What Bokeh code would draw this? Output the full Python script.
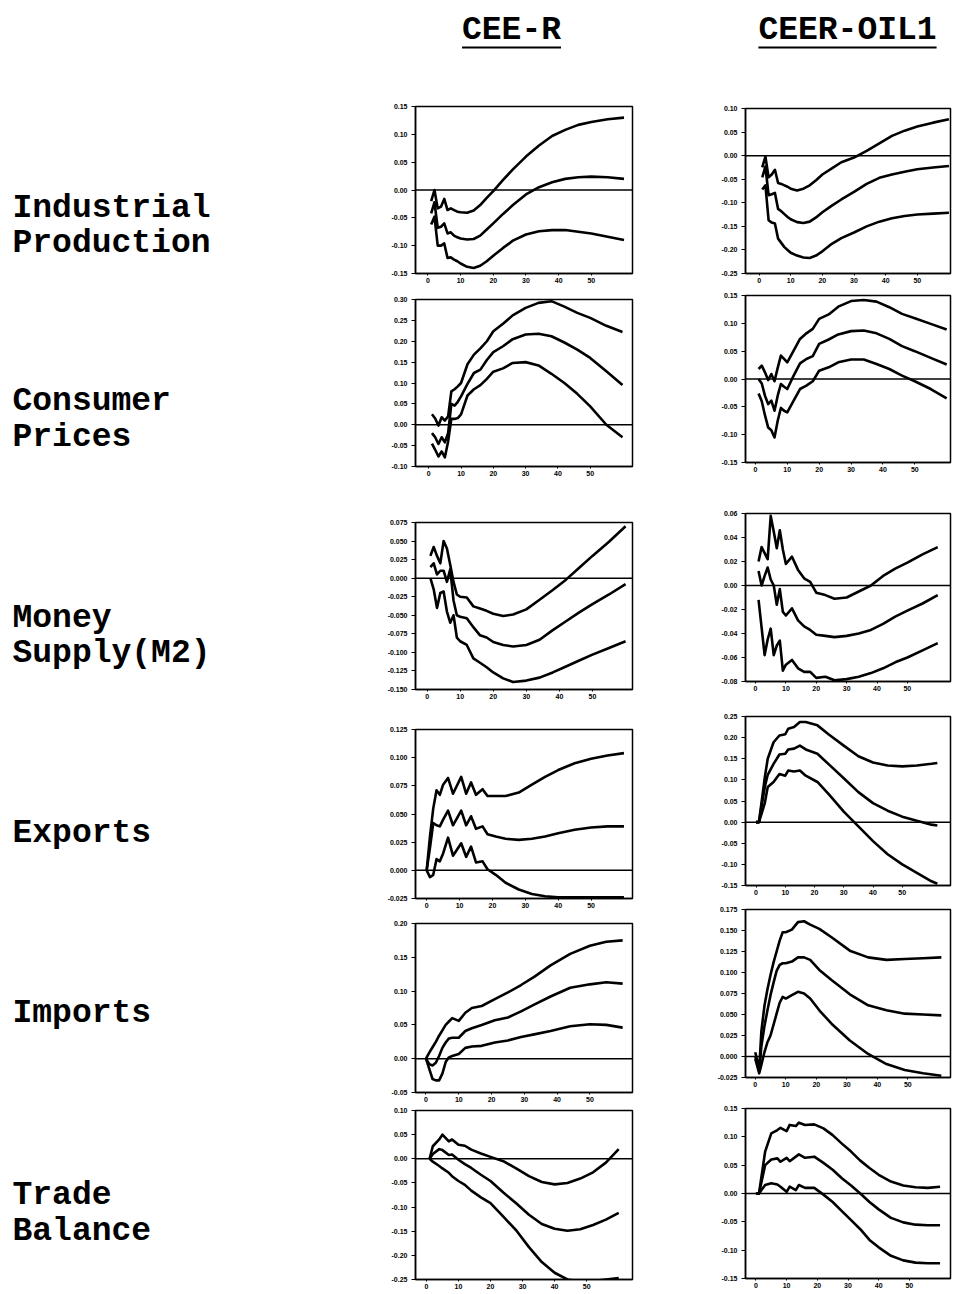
from bokeh.plotting import figure
from bokeh.layouts import column, row
from bokeh.models import Range1d, FixedTicker, PrintfTickFormatter, Span
from bokeh.core.properties import value
from bokeh.embed import file_html
from bokeh.resources import INLINE

# ---------------------------------------------------------------------------
# Impulse responses (upper band, point estimate, lower band) by horizon
# ---------------------------------------------------------------------------
GRID = [1, 2, 3, 4, 5, 6, 7, 8, 9, 10, 12, 14, 16, 18, 20, 23, 26, 30, 34, 38, 42, 46, 50, 55, 60]

ip_r_x = GRID
ip_r_hi = [-0.020, 0.000, -0.033, -0.030, -0.016, -0.036, -0.033, -0.036, -0.039, -0.040, -0.041, -0.037, -0.027,
           -0.014, -0.002, 0.018, 0.037, 0.060, 0.080, 0.097, 0.108, 0.117, 0.122, 0.127, 0.130]
ip_r_mid = [-0.042, -0.022, -0.068, -0.066, -0.060, -0.078, -0.076, -0.082, -0.085, -0.087, -0.089, -0.088, -0.082,
            -0.071, -0.060, -0.043, -0.027, -0.008, 0.005, 0.014, 0.020, 0.023, 0.024, 0.023, 0.020]
ip_r_lo = [-0.062, -0.048, -0.100, -0.100, -0.096, -0.122, -0.121, -0.125, -0.128, -0.132, -0.138, -0.140, -0.136,
           -0.128, -0.118, -0.104, -0.091, -0.080, -0.074, -0.072, -0.072, -0.075, -0.078, -0.084, -0.090]

ip_o_x = GRID
ip_o_hi = [-0.025, -0.002, -0.046, -0.040, -0.030, -0.058, -0.060, -0.063, -0.066, -0.070, -0.074, -0.070, -0.063,
           -0.052, -0.040, -0.027, -0.014, -0.004, 0.010, 0.026, 0.042, 0.053, 0.062, 0.070, 0.077]
ip_o_mid = [-0.046, -0.023, -0.084, -0.082, -0.079, -0.113, -0.118, -0.124, -0.130, -0.135, -0.141, -0.143, -0.140,
            -0.131, -0.120, -0.106, -0.093, -0.077, -0.060, -0.047, -0.040, -0.034, -0.029, -0.025, -0.022]
ip_o_lo = [-0.072, -0.063, -0.137, -0.142, -0.144, -0.176, -0.185, -0.194, -0.200, -0.206, -0.212, -0.216, -0.217,
           -0.212, -0.203, -0.187, -0.175, -0.163, -0.150, -0.140, -0.133, -0.128, -0.125, -0.123, -0.121]

cp_r_x = GRID
cp_r_hi = [0.025, 0.015, -0.002, 0.018, 0.010, 0.020, 0.080, 0.085, 0.092, 0.100, 0.145, 0.168, 0.183, 0.200, 0.224,
           0.242, 0.262, 0.280, 0.292, 0.296, 0.283, 0.268, 0.256, 0.237, 0.222]
cp_r_mid = [-0.020, -0.030, -0.046, -0.030, -0.042, -0.020, 0.050, 0.046, 0.055, 0.068, 0.098, 0.124, 0.132, 0.155,
            0.174, 0.188, 0.205, 0.216, 0.218, 0.212, 0.197, 0.180, 0.160, 0.128, 0.095]
cp_r_lo = [-0.045, -0.060, -0.076, -0.064, -0.078, -0.040, 0.014, 0.014, 0.016, 0.025, 0.070, 0.085, 0.095, 0.110,
           0.127, 0.135, 0.148, 0.150, 0.142, 0.122, 0.100, 0.074, 0.044, 0.000, -0.030]

cp_o_x = GRID
cp_o_hi = [0.018, 0.024, 0.012, -0.002, 0.009, -0.004, 0.020, 0.042, 0.036, 0.030, 0.051, 0.072, 0.082, 0.090, 0.108,
           0.116, 0.130, 0.140, 0.142, 0.139, 0.129, 0.117, 0.109, 0.099, 0.089]
cp_o_mid = [0.000, -0.008, -0.030, -0.045, -0.039, -0.057, -0.030, -0.009, -0.014, -0.018, 0.006, 0.028, 0.036, 0.041,
            0.063, 0.071, 0.080, 0.086, 0.087, 0.082, 0.072, 0.059, 0.050, 0.038, 0.026]
cp_o_lo = [-0.026, -0.040, -0.065, -0.087, -0.092, -0.105, -0.075, -0.052, -0.057, -0.060, -0.039, -0.018, -0.012,
           -0.004, 0.015, 0.021, 0.030, 0.035, 0.035, 0.027, 0.018, 0.006, -0.004, -0.018, -0.035]

m2_r_x = GRID
m2_r_hi = [0.030, 0.042, 0.030, 0.020, 0.050, 0.040, 0.018, -0.005, -0.022, -0.025, -0.026, -0.038, -0.041, -0.044,
           -0.048, -0.051, -0.049, -0.042, -0.029, -0.016, -0.002, 0.014, 0.030, 0.049, 0.070]
m2_r_mid = [0.015, 0.020, 0.005, 0.010, 0.010, -0.005, 0.012, -0.030, -0.050, -0.052, -0.054, -0.066, -0.077, -0.080,
            -0.086, -0.090, -0.092, -0.090, -0.083, -0.070, -0.058, -0.046, -0.035, -0.022, -0.008]
m2_r_lo = [0.000, -0.015, -0.040, -0.020, -0.018, -0.045, -0.060, -0.050, -0.080, -0.085, -0.090, -0.108, -0.114,
           -0.120, -0.127, -0.135, -0.140, -0.138, -0.134, -0.127, -0.119, -0.111, -0.103, -0.094, -0.085]

m2_o_x = GRID
m2_o_hi = [0.020, 0.032, 0.027, 0.022, 0.058, 0.045, 0.031, 0.046, 0.030, 0.018, 0.024, 0.013, 0.006, 0.003, -0.006,
           -0.008, -0.011, -0.010, -0.005, 0.000, 0.008, 0.014, 0.019, 0.026, 0.032]
m2_o_mid = [0.012, 0.000, 0.008, 0.015, 0.005, 0.000, -0.016, -0.003, -0.022, -0.025, -0.019, -0.029, -0.034, -0.037,
            -0.041, -0.042, -0.043, -0.042, -0.040, -0.037, -0.032, -0.026, -0.021, -0.015, -0.008]
m2_o_lo = [-0.012, -0.035, -0.058, -0.045, -0.036, -0.058, -0.050, -0.046, -0.071, -0.066, -0.062, -0.069, -0.072,
           -0.072, -0.077, -0.076, -0.079, -0.078, -0.076, -0.073, -0.069, -0.064, -0.060, -0.054, -0.048]

ex_r_x = [0, 1, 2, 3, 4, 5, 6.5, 8, 10.5, 12, 13.5, 15, 17, 18.5, 21, 24, 28, 32, 36, 40, 45, 50, 55, 60]
ex_r_hi = [0.000, 0.030, 0.055, 0.071, 0.067, 0.076, 0.082, 0.068, 0.083, 0.068, 0.078, 0.067, 0.072, 0.066, 0.066,
           0.066, 0.069, 0.076, 0.083, 0.089, 0.095, 0.099, 0.102, 0.104]
ex_r_mid = [0.000, 0.020, 0.042, 0.040, 0.039, 0.045, 0.053, 0.040, 0.053, 0.040, 0.048, 0.037, 0.039, 0.032, 0.030,
            0.028, 0.027, 0.028, 0.030, 0.033, 0.036, 0.038, 0.039, 0.039]
ex_r_lo = [0.000, -0.006, -0.004, 0.010, 0.008, 0.015, 0.029, 0.013, 0.024, 0.012, 0.021, 0.007, 0.008, 0.001, -0.004,
           -0.011, -0.017, -0.021, -0.023, -0.024, -0.024, -0.024, -0.024, -0.024]

ex_o_x = [0, 1, 3, 4, 6, 8, 10, 11, 13, 15, 17, 21, 25, 30, 35, 40, 45, 50, 55, 60, 62]
ex_o_hi = [0.000, 0.000, 0.106, 0.150, 0.189, 0.205, 0.208, 0.221, 0.225, 0.237, 0.237, 0.229, 0.207, 0.181, 0.156,
           0.141, 0.134, 0.132, 0.134, 0.138, 0.140]
ex_o_mid = [0.000, 0.000, 0.083, 0.112, 0.138, 0.160, 0.162, 0.172, 0.174, 0.181, 0.172, 0.162, 0.136, 0.104, 0.071,
            0.045, 0.027, 0.013, 0.003, -0.006, -0.008]
ex_o_lo = [0.000, 0.000, 0.045, 0.083, 0.095, 0.114, 0.110, 0.122, 0.120, 0.122, 0.110, 0.095, 0.065, 0.025, -0.010,
           -0.045, -0.076, -0.100, -0.120, -0.140, -0.146]

im_r_x = [0, 1, 2, 3, 4, 5, 6, 7, 8, 10, 12, 14, 17, 21, 25, 29, 33, 38, 44, 50, 55, 60]
im_r_hi = [0.000, 0.009, 0.017, 0.025, 0.034, 0.042, 0.050, 0.055, 0.060, 0.056, 0.068, 0.075, 0.078, 0.088, 0.098,
           0.109, 0.121, 0.138, 0.155, 0.167, 0.173, 0.175]
im_r_mid = [0.000, -0.008, -0.010, -0.006, 0.004, 0.016, 0.024, 0.030, 0.031, 0.031, 0.041, 0.045, 0.050, 0.057, 0.061,
            0.070, 0.080, 0.092, 0.105, 0.110, 0.113, 0.111]
im_r_lo = [0.000, -0.015, -0.030, -0.032, -0.032, -0.022, -0.005, 0.002, 0.004, 0.007, 0.016, 0.018, 0.019, 0.024,
           0.027, 0.032, 0.036, 0.041, 0.048, 0.051, 0.050, 0.046]

im_o_x = [0, 1.3, 2, 3, 4, 5, 6, 7, 8, 9, 10, 12, 14, 16, 18, 21, 25, 31, 37, 43, 49, 55, 61]
im_o_hi = [0.005, -0.015, 0.030, 0.060, 0.080, 0.097, 0.112, 0.125, 0.138, 0.148, 0.148, 0.151, 0.160, 0.161, 0.157,
           0.152, 0.142, 0.126, 0.118, 0.115, 0.116, 0.117, 0.118]
im_o_mid = [0.000, -0.017, 0.012, 0.036, 0.055, 0.073, 0.088, 0.102, 0.109, 0.111, 0.111, 0.113, 0.118, 0.118, 0.115,
            0.103, 0.091, 0.074, 0.061, 0.055, 0.051, 0.050, 0.049]
im_o_lo = [-0.003, -0.020, -0.010, 0.005, 0.017, 0.025, 0.038, 0.051, 0.064, 0.071, 0.069, 0.073, 0.077, 0.075, 0.069,
           0.055, 0.039, 0.019, 0.003, -0.009, -0.016, -0.020, -0.023]

tb_r_x = [1, 2, 4, 5, 7, 8, 10, 12, 14, 17, 20, 24, 28, 32, 36, 40, 44, 48, 52, 56, 60]
tb_r_hi = [0.000, 0.026, 0.040, 0.050, 0.036, 0.040, 0.029, 0.027, 0.019, 0.011, 0.004, -0.005, -0.020, -0.036, -0.048,
           -0.053, -0.050, -0.041, -0.028, -0.008, 0.020]
tb_r_mid = [0.000, 0.010, 0.020, 0.018, 0.008, 0.009, -0.002, -0.011, -0.019, -0.033, -0.046, -0.070, -0.092, -0.116,
            -0.135, -0.145, -0.149, -0.146, -0.137, -0.126, -0.112]
tb_r_lo = [0.000, -0.006, -0.015, -0.020, -0.029, -0.036, -0.046, -0.054, -0.066, -0.080, -0.092, -0.120, -0.148,
           -0.183, -0.214, -0.236, -0.250, -0.254, -0.253, -0.250, -0.247]

tb_o_x = [0, 1, 3, 5, 7, 8, 10, 11, 13, 14, 16, 19, 22, 25, 28, 31, 34, 37, 40, 44, 48, 52, 56, 60]
tb_o_hi = [0.000, 0.000, 0.074, 0.106, 0.112, 0.116, 0.110, 0.121, 0.119, 0.125, 0.121, 0.122, 0.115, 0.103, 0.088,
           0.074, 0.058, 0.045, 0.033, 0.021, 0.014, 0.011, 0.010, 0.012]
tb_o_mid = [0.000, 0.000, 0.050, 0.060, 0.062, 0.056, 0.063, 0.057, 0.065, 0.069, 0.063, 0.065, 0.054, 0.042, 0.027,
            0.014, 0.000, -0.015, -0.028, -0.043, -0.051, -0.055, -0.056, -0.056]
tb_o_lo = [0.000, 0.000, 0.015, 0.018, 0.016, 0.012, 0.003, 0.012, 0.006, 0.015, 0.010, 0.010, -0.002, -0.015, -0.031,
           -0.047, -0.063, -0.082, -0.095, -0.110, -0.118, -0.122, -0.123, -0.123]

# axis tick values
X_TICKS = [0, 10, 20, 30, 40, 50]
ip_r_ticks = [-0.15, -0.10, -0.05, 0.00, 0.05, 0.10, 0.15]
ip_o_ticks = [-0.25, -0.20, -0.15, -0.10, -0.05, 0.00, 0.05, 0.10]
cp_r_ticks = [-0.10, -0.05, 0.00, 0.05, 0.10, 0.15, 0.20, 0.25, 0.30]
cp_o_ticks = [-0.15, -0.10, -0.05, 0.00, 0.05, 0.10, 0.15]
m2_r_ticks = [-0.150, -0.125, -0.100, -0.075, -0.050, -0.025, 0.000, 0.025, 0.050, 0.075]
m2_o_ticks = [-0.08, -0.06, -0.04, -0.02, 0.00, 0.02, 0.04, 0.06]
ex_r_ticks = [-0.025, 0.000, 0.025, 0.050, 0.075, 0.100, 0.125]
ex_o_ticks = [-0.15, -0.10, -0.05, 0.00, 0.05, 0.10, 0.15, 0.20, 0.25]
im_r_ticks = [-0.05, 0.00, 0.05, 0.10, 0.15, 0.20]
im_o_ticks = [-0.025, 0.000, 0.025, 0.050, 0.075, 0.100, 0.125, 0.150, 0.175]
tb_r_ticks = [-0.25, -0.20, -0.15, -0.10, -0.05, 0.00, 0.05, 0.10]
tb_o_ticks = [-0.15, -0.10, -0.05, 0.00, 0.05, 0.10, 0.15]

COL_TITLES = ["CEE-R", "CEER-OIL1"]
ROW_LABELS = [["Industrial", "Production"], ["Consumer", "Prices"], ["Money", "Supply(M2)"],
              ["Exports"], ["Imports"], ["Trade", "Balance"]]

# ---------------------------------------------------------------------------
# Page geometry (pixels): column extents, plot frames and vertical bands
# ---------------------------------------------------------------------------
PAGE_W, PAGE_H, HEAD_H, LABEL_W = 971, 1294, 100, 355
COLS = [(355, 680), (680, 971)]

# frame left, right, top, bottom, band top, band bottom, x start, x end
LEFT_GEOM = [
    (412, 638, 106, 273, 100, 290, -3.8, 62.6),
    (409, 633, 299, 466, 290, 500, -4.1, 63.1),
    (415, 633, 522, 689, 500, 710, -3.5, 62.1),
    (412, 632, 729, 898, 710, 916, -3.4, 62.6),
    (406, 633, 923, 1092, 916, 1105, -3.2, 63.0),
    (410, 642, 1110, 1279, 1105, 1294, -3.4, 64.3),
]
RIGHT_GEOM = [
    (745, 970, 108, 273, 100, 288, -4.3, 60.5),
    (743, 970, 295, 462, 288, 492, -3.1, 61.2),
    (732, 965, 513, 681, 492, 702, -3.3, 64.2),
    (727, 964, 716, 885, 702, 902, -3.6, 66.5),
    (725, 957, 909, 1077, 902, 1096, -3.2, 64.0),
    (718, 950, 1108, 1278, 1096, 1294, -3.4, 63.4),
]
LABEL_Y = [[208, 243], [401, 437], [618, 653], [833], [1013], [1195, 1231]]

LEFT_DATA = [
    (ip_r_x, ip_r_hi, ip_r_mid, ip_r_lo, ip_r_ticks, "%.2f"),
    (cp_r_x, cp_r_hi, cp_r_mid, cp_r_lo, cp_r_ticks, "%.2f"),
    (m2_r_x, m2_r_hi, m2_r_mid, m2_r_lo, m2_r_ticks, "%.3f"),
    (ex_r_x, ex_r_hi, ex_r_mid, ex_r_lo, ex_r_ticks, "%.3f"),
    (im_r_x, im_r_hi, im_r_mid, im_r_lo, im_r_ticks, "%.2f"),
    (tb_r_x, tb_r_hi, tb_r_mid, tb_r_lo, tb_r_ticks, "%.2f"),
]
RIGHT_DATA = [
    (ip_o_x, ip_o_hi, ip_o_mid, ip_o_lo, ip_o_ticks, "%.2f"),
    (cp_o_x, cp_o_hi, cp_o_mid, cp_o_lo, cp_o_ticks, "%.2f"),
    (m2_o_x, m2_o_hi, m2_o_mid, m2_o_lo, m2_o_ticks, "%.2f"),
    (ex_o_x, ex_o_hi, ex_o_mid, ex_o_lo, ex_o_ticks, "%.2f"),
    (im_o_x, im_o_hi, im_o_mid, im_o_lo, im_o_ticks, "%.3f"),
    (tb_o_x, tb_o_hi, tb_o_mid, tb_o_lo, tb_o_ticks, "%.2f"),
]

TICK_FONT = "Liberation Sans"
LABEL_FONT = "Liberation Mono"


def panel(data, geom, col):
    x, hi, mid, lo, yticks, fmt = data
    fl, fr, ft, fb, bt, bb, x0, x1 = geom
    cx0, cx1 = col
    p = figure(width=cx1 - cx0, height=bb - bt,
               x_range=Range1d(x0, x1), y_range=Range1d(min(yticks), max(yticks)),
               toolbar_location=None, output_backend="svg",
               min_border_left=fl - cx0, min_border_right=cx1 - fr,
               min_border_top=ft - bt, min_border_bottom=bb - fb)
    p.grid.visible = False
    p.outline_line_color = "black"
    p.outline_line_width = 1.5
    p.background_fill_color = "white"
    p.border_fill_color = "white"
    for ax in (p.xaxis[0], p.yaxis[0]):
        ax.axis_line_width = 1.5
        ax.major_tick_in = 0
        ax.minor_tick_line_color = None
        ax.major_label_text_font = TICK_FONT
        ax.major_label_text_font_style = "bold"
        ax.major_label_text_font_size = "7px"
        ax.major_label_text_color = "black"
    p.xaxis.ticker = FixedTicker(ticks=X_TICKS)
    p.xaxis.major_tick_out = 2
    p.xaxis.major_label_standoff = 2
    p.yaxis.ticker = FixedTicker(ticks=yticks)
    p.yaxis.formatter = PrintfTickFormatter(format=fmt)
    p.yaxis.major_tick_out = 4
    p.yaxis.major_label_standoff = 4
    p.add_layout(Span(location=0, dimension="width", line_color="black", line_width=1.5))
    for ys in (hi, mid, lo):
        p.line(x, ys, line_color="black", line_width=2.6, line_join="round")
    return p


# column headers
head = figure(width=PAGE_W, height=HEAD_H, x_range=Range1d(0, PAGE_W), y_range=Range1d(HEAD_H, 0),
              toolbar_location=None, output_backend="svg", min_border=0)
head.axis.visible = False
head.grid.visible = False
head.outline_line_color = None
head_x = [511, 847]
head.text(x=head_x, y=[30, 30], text=COL_TITLES, text_font=value(LABEL_FONT), text_font_style="bold",
          text_font_size="33px", text_align="center", text_baseline="middle", text_color="black")
half = [len(t) * 0.6 * 33 / 2 for t in COL_TITLES]
head.segment(x0=[c - h for c, h in zip(head_x, half)], y0=[47, 47],
             x1=[c + h for c, h in zip(head_x, half)], y1=[47, 47], line_color="black", line_width=2)

# row labels
lab = figure(width=LABEL_W, height=PAGE_H - HEAD_H, x_range=Range1d(0, LABEL_W),
             y_range=Range1d(PAGE_H, HEAD_H), toolbar_location=None, output_backend="svg", min_border=0)
lab.axis.visible = False
lab.grid.visible = False
lab.outline_line_color = None
lx, ly, lt = [], [], []
for lines, ys in zip(ROW_LABELS, LABEL_Y):
    for t, yy in zip(lines, ys):
        lx.append(12)
        ly.append(yy)
        lt.append(t)
lab.text(x=lx, y=ly, text=lt, text_font=value(LABEL_FONT), text_font_style="bold", text_font_size="33px",
         text_align="left", text_baseline="middle", text_color="black")

left_col = column(*[panel(d, g, COLS[0]) for d, g in zip(LEFT_DATA, LEFT_GEOM)], spacing=0)
right_col = column(*[panel(d, g, COLS[1]) for d, g in zip(RIGHT_DATA, RIGHT_GEOM)], spacing=0)
page = column(head, row(lab, left_col, right_col, spacing=0), spacing=0)

open("out.html", "w").write(file_html(page, INLINE))
